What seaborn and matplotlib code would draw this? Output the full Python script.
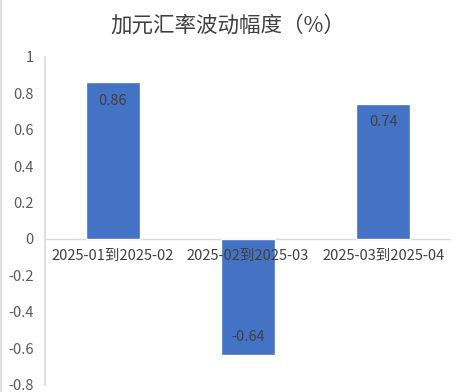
import matplotlib
matplotlib.use('Agg')
import matplotlib.pyplot as plt
import seaborn as sns
import pandas as pd
from matplotlib.lines import Line2D

# 数据
periodos = ['2025-01到2025-02', '2025-02到2025-03', '2025-03到2025-04']
variacion = [0.86, -0.64, 0.74]
yticks = [-0.8, -0.6, -0.4, -0.2, 0, 0.2, 0.4, 0.6, 0.8, 1]

sns.set_theme(style='white')
plt.rcParams['font.family'] = ['Noto Sans CJK SC', 'DejaVu Sans']
plt.rcParams['axes.unicode_minus'] = False

df = pd.DataFrame({'periodo': periodos, 'valor': variacion})

fig = plt.figure(figsize=(4.56, 3.92), dpi=100)
ax = fig.add_axes([0.0987, 0.0189, 0.8903, 0.8357])

sns.barplot(data=df, x='periodo', y='valor', color='#4472C4', width=0.4,
            saturation=1, ax=ax)

ax.set_xlim(-0.5, 2.5)
ax.set_ylim(-0.8, 1)
ax.set_yticks(yticks)
ax.set_yticklabels([f'{t:g}' for t in yticks], color='#595959', fontsize=10.5)
ax.tick_params(axis='y', length=0, pad=8)
ax.set_xticks([])
ax.set_xlabel('')
ax.set_ylabel('')

for s in ['top', 'right', 'bottom']:
    ax.spines[s].set_visible(False)
ax.spines['left'].set_color('#D9D9D9')
ax.axhline(0, color='#D9D9D9', lw=1, zorder=0.5)

# etiquetas de categorias debajo de la linea cero
for i, p in enumerate(periodos):
    ax.annotate(p, (i, 0), xytext=(0, -12), textcoords='offset points',
                ha='center', va='center', fontsize=10.5, color='#404040')

# etiquetas de datos dentro de las barras
for i, v in enumerate(variacion):
    off = -13 if v > 0 else 13
    ax.annotate(f'{v:g}', (i, v), xytext=(0, off), textcoords='offset points',
                ha='center', va='center', fontsize=10.5, color='#404040')

fig.text(0.5, 0.935, '加元汇率波动幅度（%）', ha='center', va='center',
         fontsize=15.5, color='#404040')

# borde izquierdo del grafico
fig.add_artist(Line2D([0.003, 0.003], [0, 1], color='#D9D9D9', lw=1.2,
                      transform=fig.transFigure))

fig.savefig('out.png', dpi=100, facecolor='white')
